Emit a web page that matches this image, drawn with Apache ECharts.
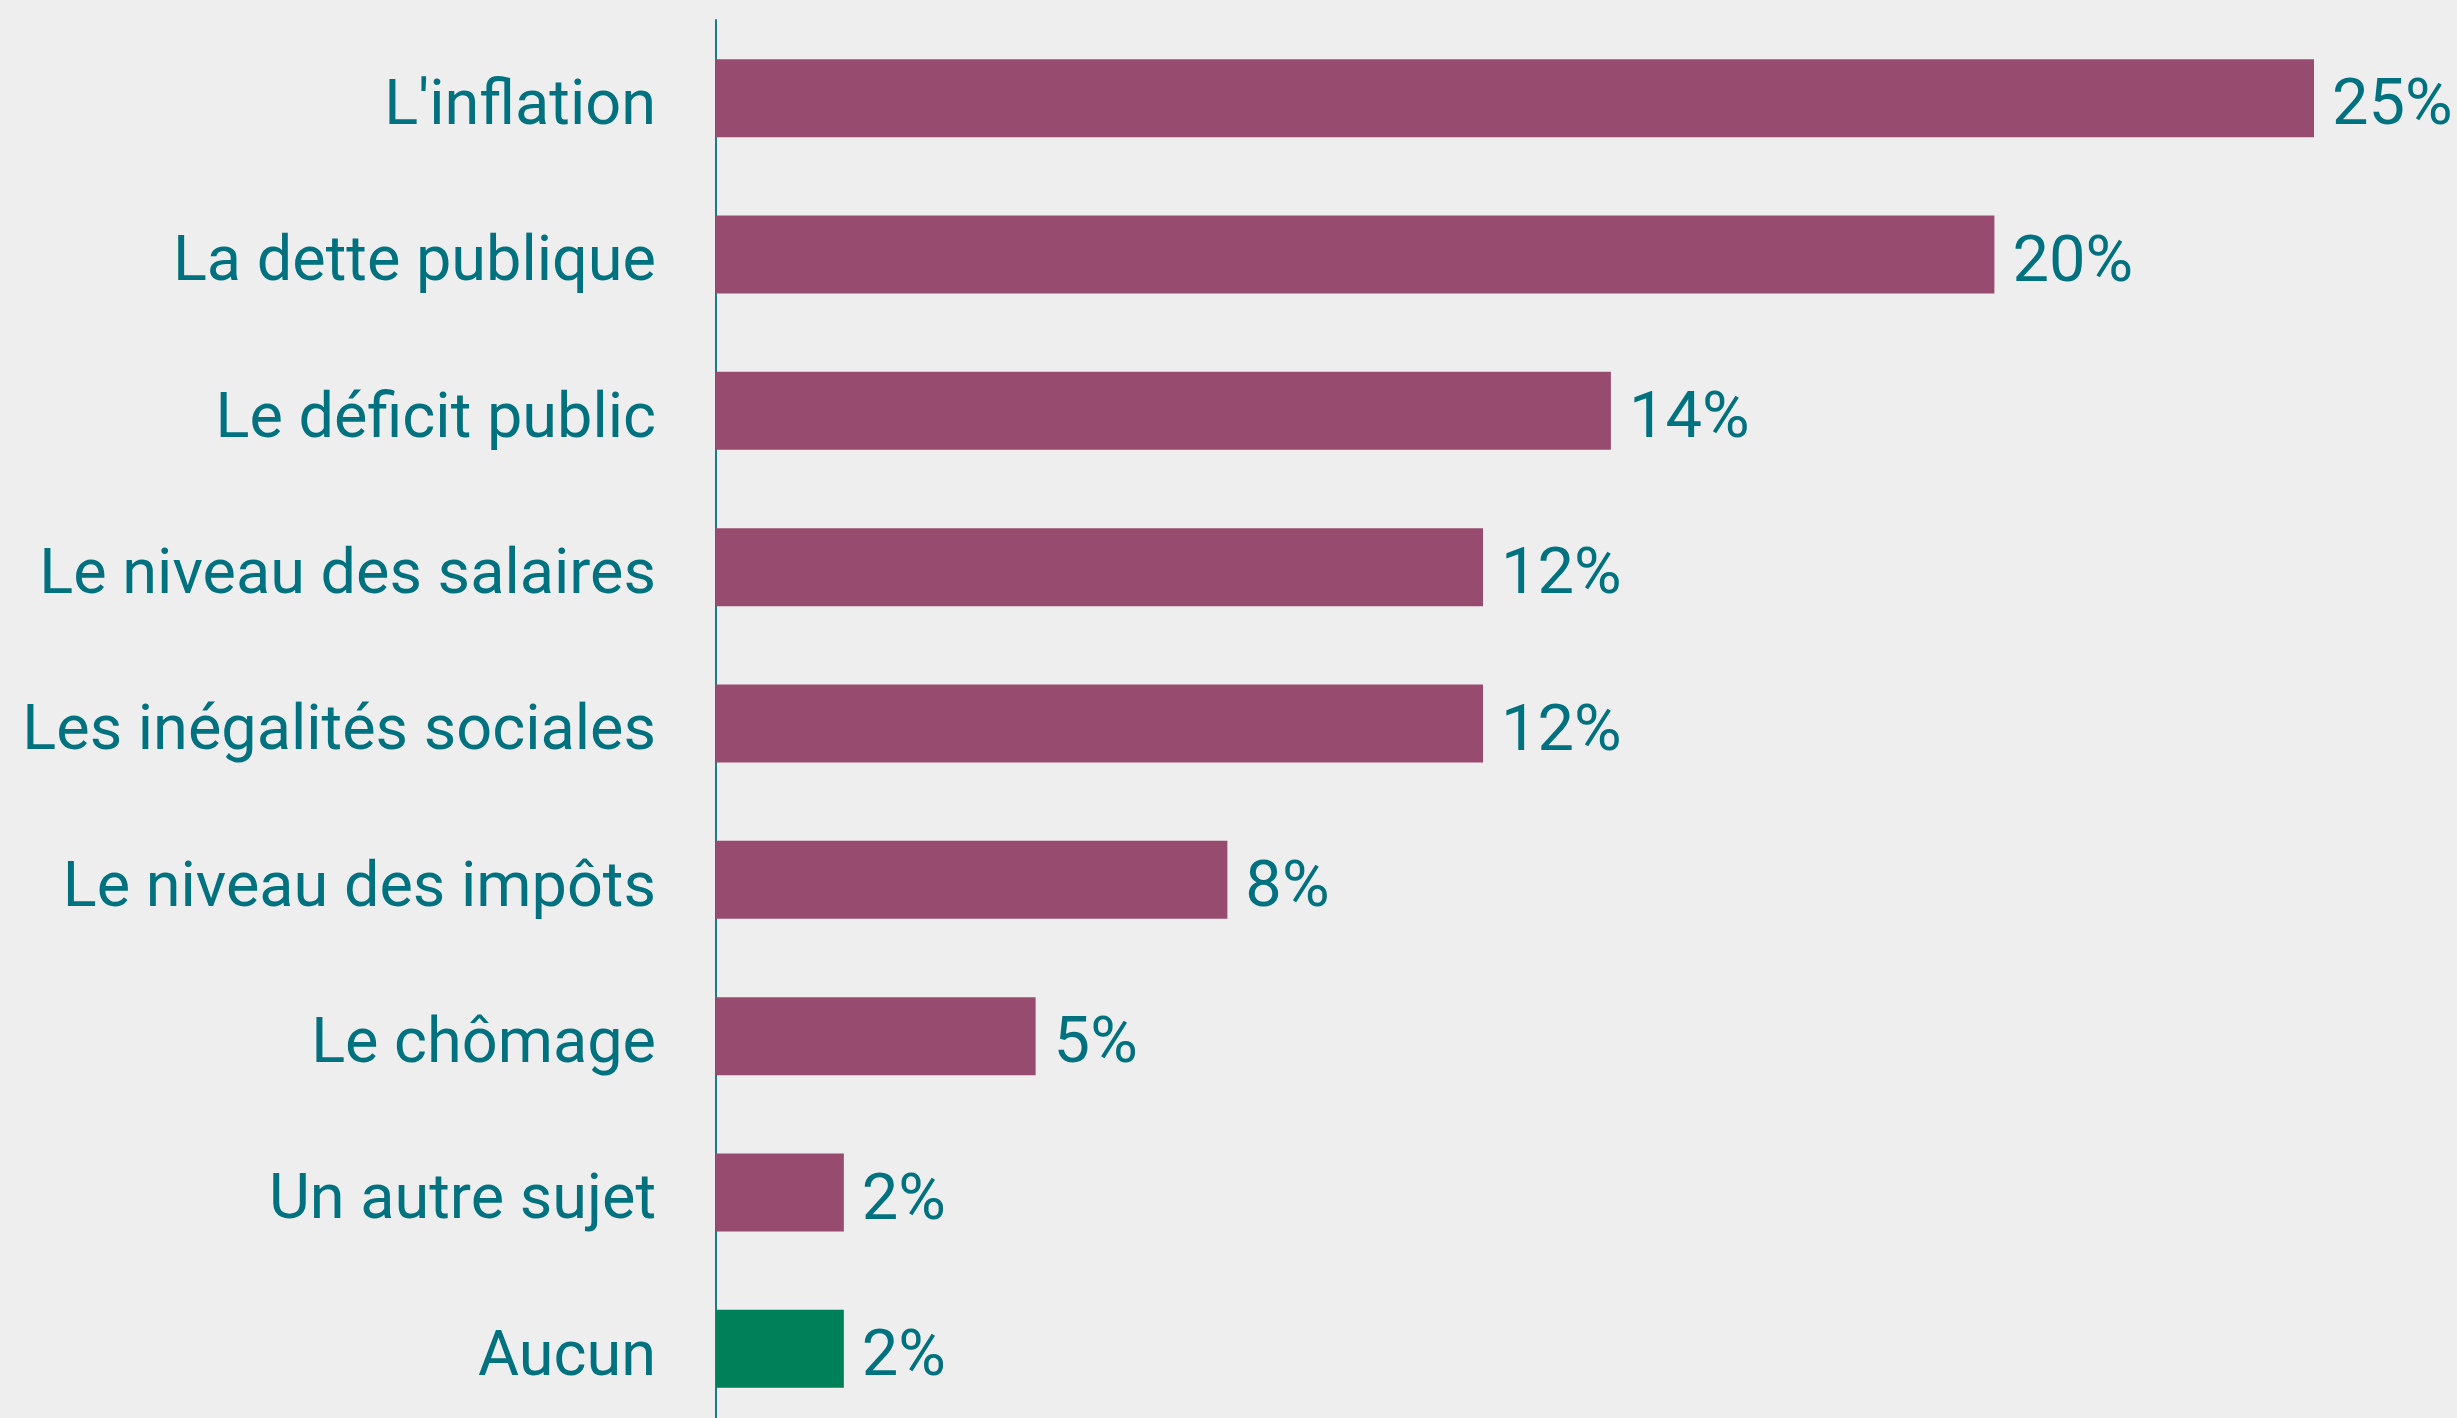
<!DOCTYPE html>
<html>
<head>
<meta charset="utf-8">
<script src="https://cdn.jsdelivr.net/npm/echarts@6/dist/echarts.min.js"></script>
<style>
  html, body { margin: 0; padding: 0; background: #eeeeee; overflow: hidden; }
  /* the axis line runs to the bottom edge, so the canvas is a little taller than the page */
  #chart { width: 2457px; height: 1430px; }
</style>
</head>
<body>
<div id="chart"></div>
<script>
// Sujets jugés prioritaires (en %)
const categories = [
  "L'inflation",
  "La dette publique",
  "Le déficit public",
  "Le niveau des salaires",
  "Les inégalités sociales",
  "Le niveau des impôts",
  "Le chômage",
  "Un autre sujet",
  "Aucun"
];
const values = [25, 20, 14, 12, 12, 8, 5, 2, 2];
const highlightCategory = "Aucun";

const TEXT = '#00717f';
const BAR = '#974b6e';
const BAR_ALT = '#008059';
const FONT = 'Roboto';

const chart = echarts.init(document.getElementById('chart'));
chart.setOption({
  backgroundColor: '#eeeeee',
  animation: false,
  grid: { left: 716, top: 20, height: 1407, right: 143, containLabel: false },
  xAxis: {
    type: 'value',
    min: 0,
    max: 25,
    show: false
  },
  yAxis: {
    type: 'category',
    data: categories,
    inverse: true,
    axisLine: { show: true, lineStyle: { color: '#1b7b8a', width: 2 } },
    axisTick: { show: false },
    splitLine: { show: false },
    axisLabel: {
      margin: 60,
      color: TEXT,
      fontFamily: FONT,
      fontSize: 63,
      fontWeight: 'normal',
      // a short line box hung from the band centre sits the glyphs on the bar's midline
      verticalAlign: 'top',
      lineHeight: 20
    }
  },
  series: [{
    type: 'bar',
    data: values.map((v, i) => ({
      value: v,
      itemStyle: { color: categories[i] === highlightCategory ? BAR_ALT : BAR }
    })),
    barWidth: 78,
    label: {
      show: true,
      position: 'right',
      distance: 18,
      formatter: '{c}%',
      color: TEXT,
      fontFamily: FONT,
      fontSize: 65,
      fontWeight: 'normal',
      verticalAlign: 'top',
      lineHeight: 20
    }
  }]
});
</script>
</body>
</html>
